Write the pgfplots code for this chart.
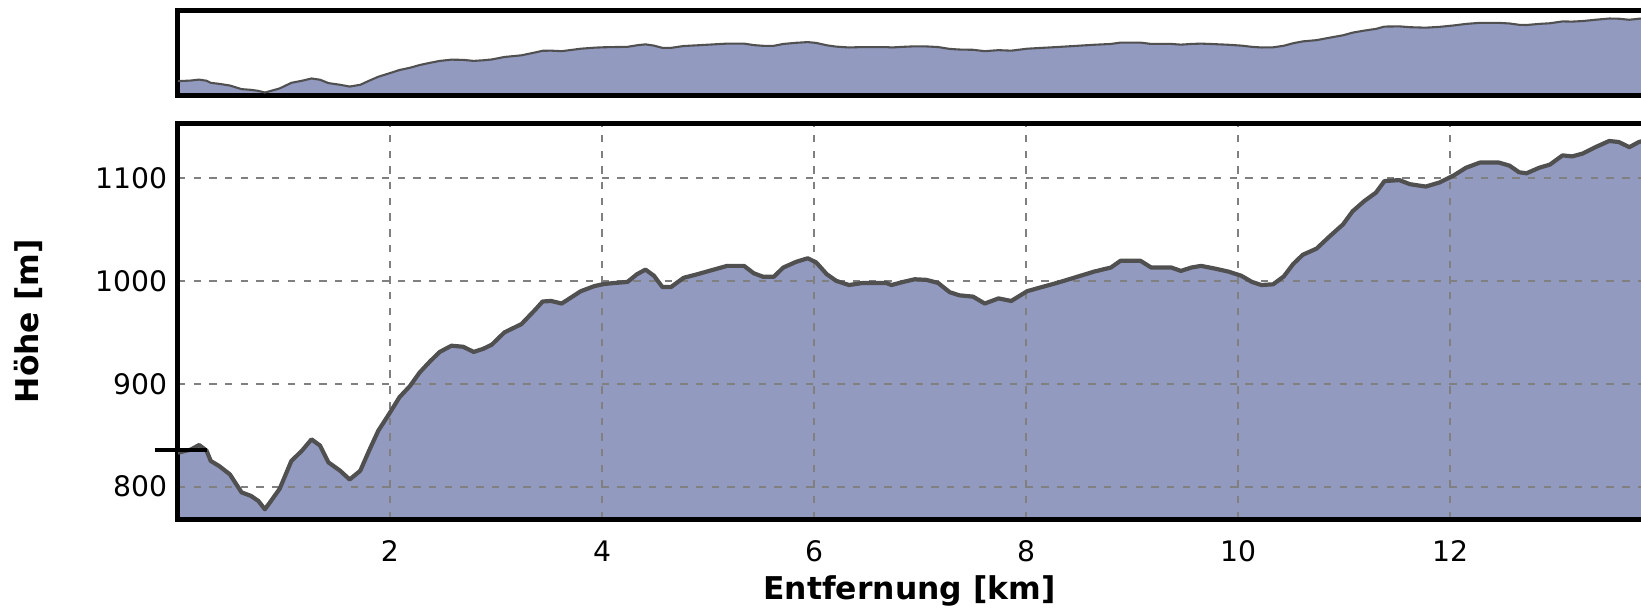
\documentclass[border=0pt]{standalone}
\usepackage{fontspec}
\setmainfont{DejaVu Sans}
\usepackage{pgfplots}
\pgfplotsset{compat=1.18}
\usepackage{pgfplotstable}

\definecolor{profilefill}{RGB}{146,154,191}
\definecolor{profileline}{RGB}{80,80,80}
\definecolor{gridgray}{RGB}{128,128,128}

% elevation profile: distance [km], height [m]
\pgfplotstableread{
km hoehe
0.00 833
0.12 836
0.20 840.5
0.27 835
0.31 825
0.39 820
0.49 812
0.60 794.5
0.69 791
0.76 786
0.82 778
0.87 785
0.96 798
1.07 825
1.17 835
1.26 846
1.34 840
1.42 823.6
1.53 815.5
1.62 807
1.72 815.5
1.81 836.6
1.89 854.4
2.00 872
2.09 887
2.19 898
2.28 911
2.38 922
2.47 931
2.58 937
2.69 936
2.79 931
2.88 934
2.96 938
3.08 950
3.24 958
3.37 972
3.44 980
3.52 980.5
3.62 978
3.71 984
3.80 990
3.93 995
4.02 997
4.12 998
4.24 999
4.33 1006.5
4.41 1011
4.49 1005
4.57 994
4.65 994
4.77 1003
4.90 1006.5
5.02 1010
5.18 1014.6
5.34 1014.6
5.43 1007.5
5.52 1004
5.62 1004
5.71 1013
5.83 1018.5
5.94 1022
6.02 1018
6.12 1006.5
6.21 1000
6.33 996
6.46 998
6.68 998
6.73 996
6.84 999
6.95 1001.6
7.06 1001
7.17 998
7.28 989
7.37 986
7.50 984.7
7.61 978
7.74 983
7.86 980.5
8.01 990
8.13 993.5
8.29 998
8.45 1003
8.64 1009
8.80 1013
8.89 1019.5
9.08 1019.5
9.18 1013
9.37 1013
9.46 1009.7
9.56 1013
9.65 1014.6
9.78 1012
9.91 1009
10.03 1005
10.13 999
10.22 996
10.33 996.7
10.43 1004.3
10.52 1016.5
10.61 1025.4
10.74 1031.4
10.86 1043
10.99 1055
11.08 1067.7
11.19 1077.6
11.30 1085.8
11.38 1097
11.52 1098
11.62 1094
11.77 1091.7
11.90 1095.7
12.03 1102.3
12.15 1110
12.28 1115
12.46 1115
12.56 1112
12.65 1105.6
12.72 1104.6
12.84 1110
12.94 1113
13.06 1122
13.15 1121
13.25 1123.8
13.37 1130
13.50 1136
13.59 1135
13.69 1130
13.78 1135
13.85 1137
}\profile

\pgfplotsset{
  frame/.style={
    scale only axis, anchor=south west,
    width=699pt, xmin=0, xmax=13.8,
    set layers,
    axis y line*=left, axis x line*=box,
    axis line style={-, line width=2.4pt, line cap=rect, black},
  }
}

\begin{document}
\begin{tikzpicture}
% overview strip
\begin{axis}[
  frame,
  at={(85pt,246pt)},
  height=40.5pt,
  ymin=765, ymax=1175,
  xtick=\empty, ytick=\empty,
]
\addplot[on layer=axis background, fill=profilefill, draw=none] table {\profile} \closedcycle;
\addplot[profileline, line width=1pt] table {\profile};
\end{axis}

% main profile
\begin{axis}[
  frame,
  at={(85pt,43.5pt)},
  height=189pt,
  ymin=768.5, ymax=1153,
  clip mode=individual,
  xtick={2,4,6,8,10,12},
  ytick={800,900,1000,1100},
  major tick length=0pt,
  grid=major,
  grid style={gridgray, line width=1pt, dash pattern=on 3.5pt off 4pt},
  /pgf/number format/1000 sep={},
  /pgf/number format/assume math mode=true,
  tick label style={font=\fontsize{13.5}{16}\selectfont},
  xticklabel style={anchor=north, inner sep=0pt, yshift=-10pt},
  yticklabel style={anchor=east, inner sep=0pt, xshift=-5pt},
  xlabel={Entfernung [km]},
  ylabel={Höhe [m]},
  label style={font=\bfseries\fontsize{15}{18}\selectfont},
  xlabel style={at={(axis description cs:0.5,-0.2037)}, anchor=base},
  ylabel style={at={(axis description cs:-0.1023,0.5)}, anchor=center},
]
\addplot[on layer=axis background, fill=profilefill, draw=none] table {\profile} \closedcycle;
\addplot[profileline, line width=2pt, line join=round] table {\profile};
\addplot[black, line width=2pt, clip=false] coordinates {(-0.22,836) (0.27,836)};
\end{axis}

\pgfresetboundingbox
\path[use as bounding box] (0,0) rectangle (784pt,291.5pt);
\end{tikzpicture}
\end{document}
